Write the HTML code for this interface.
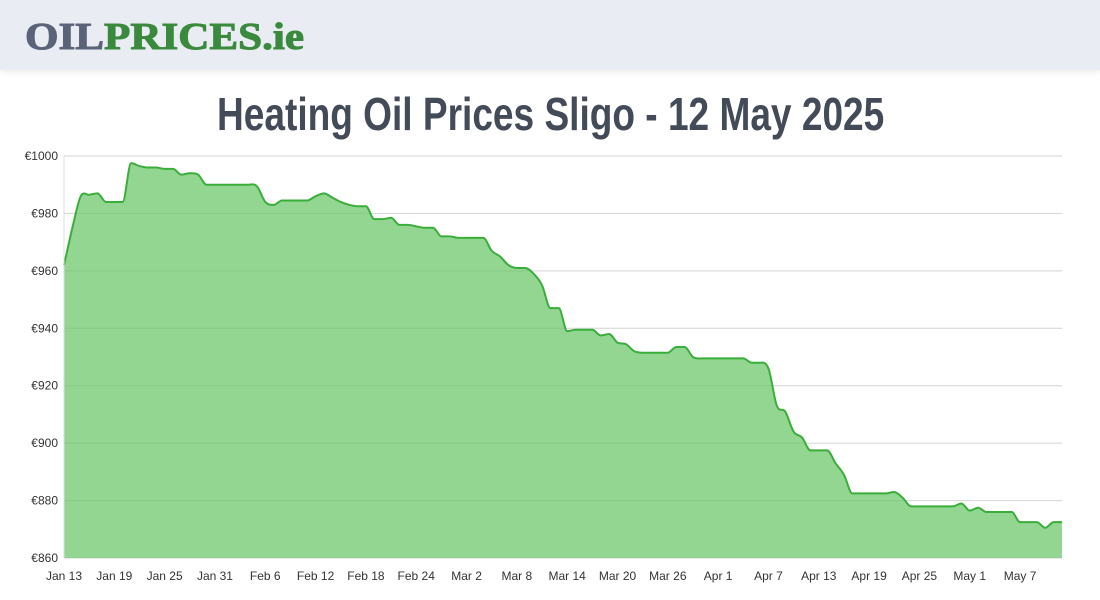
<!DOCTYPE html>
<html><head><meta charset="utf-8"><style>
body{margin:0;width:1100px;height:600px;overflow:hidden;background:#fff;font-family:"Liberation Sans",sans-serif}
#hdr{position:absolute;left:0;top:0;width:1100px;height:70px;background:#e9ecf3;box-shadow:0 2px 6px rgba(0,0,0,0.08)}
#logo{position:absolute;left:25px;top:15px;font-family:"Liberation Serif",serif;font-weight:bold;font-size:38px;line-height:44px;white-space:nowrap;transform-origin:left;-webkit-text-stroke:1px currentColor}
#title{position:absolute;left:0;top:86px;white-space:nowrap;font-family:"Liberation Sans Narrow","Liberation Sans",sans-serif;font-weight:bold;font-size:46px;line-height:56px;color:#434a58;transform-origin:left}
</style></head><body>
<div id="hdr">
<div id="logo"><span style="color:#5a6378">OIL</span><span style="color:#3a8a3e">PRICES.ie</span></div>
</div>
<div id="title">Heating Oil Prices Sligo - 12 May 2025</div>
<svg id="chart" width="1100" height="600" style="position:absolute;left:0;top:0"></svg>
<script>
(function(){
 const lg=document.getElementById('logo');lg.style.transform='scaleX('+(279/lg.offsetWidth)+')';
 const t=document.getElementById('title');const w=t.offsetWidth;
 t.style.left='217px';t.style.transform='scaleX('+(667/w)+')';
})();
const yTicks=[860,880,900,920,940,960,980,1000];
const xTickLabels=["Jan 13","Jan 19","Jan 25","Jan 31","Feb 6","Feb 12","Feb 18","Feb 24","Mar 2","Mar 8","Mar 14","Mar 20","Mar 26","Apr 1","Apr 7","Apr 13","Apr 19","Apr 25","May 1","May 7"];
const prices=[962,975,986,986.5,987,984,984,984,997.5,996.5,996,996,995.5,995.5,993.5,994,993.5,990,990,990,990,990,990,989.5,984,983,984.5,984.5,984.5,984.5,986,987,985.5,984,983,982.5,982.5,978,978,978.5,976,976,975.5,975,975,972,972,971.5,971.5,971.5,971.5,967,965,962,961,961,959,955,947,947,939,939.5,939.5,939.5,937.5,938,935,934.5,932,931.5,931.5,931.5,931.5,933.5,933.5,930,929.5,929.5,929.5,929.5,929.5,929.5,928,928,926,913,911,904,902,897.5,897.5,897.5,893,889,882.5,882.5,882.5,882.5,882.5,883,881,878,878,878,878,878,878,879,876.5,877.5,876,876,876,876,872.5,872.5,872.5,870.5,872.5,872.5];
const NS="http://www.w3.org/2000/svg";
const svg=document.getElementById('chart');
const X0=64,X1=1062,Y0=558,Y1=156,VMIN=860,VMAX=1000;
const n=prices.length;
function xs(i){return X0+(X1-X0)*i/(n-1);}
function ys(v){return Y0-(v-VMIN)/(VMAX-VMIN)*(Y0-Y1);}
function mk(t,a){const e=document.createElementNS(NS,t);for(const k in a)e.setAttribute(k,a[k]);svg.appendChild(e);return e;}
yTicks.forEach(v=>{
 const g=mk('line',{x1:X0,x2:X1,y1:ys(v),y2:ys(v),stroke:'#e2e2e2','stroke-width':1});
 
 
 const t=mk('text',{x:X0-6,y:ys(v)+4,'text-anchor':'end','font-size':12,fill:'#333'});
 t.textContent='€'+v;
 
 
});
xTickLabels.forEach((l,k)=>{
 const t=mk('text',{x:xs(k*6),y:580,'text-anchor':'middle','font-size':12,fill:'#333'});
 t.textContent=l;
 
 
});
const px=prices.map((v,i)=>xs(i)),py=prices.map(v=>ys(v));
const d=[],m=[];
for(let i=0;i<n-1;i++)d.push((py[i+1]-py[i])/(px[i+1]-px[i]));
for(let i=0;i<n;i++){
 if(i==0)m.push(d[0]);else if(i==n-1)m.push(d[n-2]);
 else m.push(d[i-1]*d[i]<=0?0:(d[i-1]+d[i])/2);
}
let path=`M${px[0]},${py[0]}`;
for(let i=0;i<n-1;i++){
 const h=(px[i+1]-px[i])/3;
 path+=` C${px[i]+h},${py[i]+m[i]*h} ${px[i+1]-h},${py[i+1]-m[i+1]*h} ${px[i+1]},${py[i+1]}`;
}
const area=mk('path',{d:path+` L${X1},${Y0} L${X0},${Y0} Z`,fill:'#92d692'});


yTicks.forEach(v=>{mk('line',{x1:X0,x2:X1,y1:ys(v),y2:ys(v),stroke:'rgba(0,0,0,0.06)','stroke-width':1});});
const ln=mk('path',{d:path,fill:'none',stroke:'#3aae3a','stroke-width':2});


const ax=mk('line',{x1:X0,x2:X0,y1:Y1,y2:Y0,stroke:'#ddd','stroke-width':1});


</script>
</body></html>
